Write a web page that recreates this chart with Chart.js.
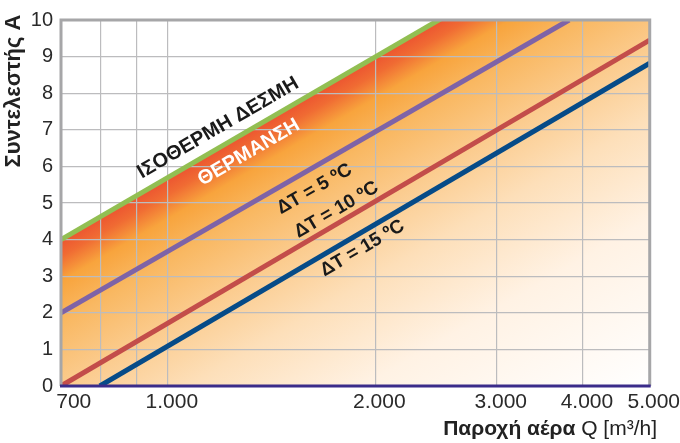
<!DOCTYPE html>
<html lang="el">
<head>
  <meta charset="UTF-8" />
  <title>Συντελεστής Α</title>
  <script src="https://cdn.jsdelivr.net/npm/chart.js"></script>
  <style>
    body, html { margin: 0; padding: 0; background: #fff; }
    #wrap { width: 680px; height: 443px; }
  </style>
</head>
<body>
  <div id="wrap"><canvas id="chart" width="680" height="443"></canvas></div>

  <script>
    // air flow Q [m3/h] (log axis) -> coefficient A, lines are straight on the log scale
    const isoQ  = [700, 5000];   const isoA  = [4, 13.35];   // isothermal jet (runs past the top, clipped)
    const dt5Q  = [700, 3820];   const dt5A  = [2, 10];
    const dt10Q = [700, 5000];   const dt10A = [0, 9.45];
    const dt15Q = [797, 5000];   const dt15A = [0, 8.82];

    const xTickValues = [700, 800, 900, 1000, 2000, 3000, 4000, 5000];
    const xTickLabels = ['   700', '', '', '1.000', '2.000', '3.000', '4.000', '5.000'];

    const FONT = "'Liberation Sans', Arial, sans-serif";
    const toPts = (qs, as) => qs.map((q, i) => ({ x: q, y: as[i] }));

    // gradient runs across the lines: red-orange at the isothermal line, white at the bottom right
    function heatGradient(chart) {
      const { ctx, chartArea, scales } = chart;
      if (!chartArea) return 'rgba(0,0,0,0)';
      const x0 = scales.x.getPixelForValue(isoQ[0]), y0 = scales.y.getPixelForValue(isoA[0]);
      const x1 = scales.x.getPixelForValue(isoQ[1]), y1 = scales.y.getPixelForValue(isoA[1]);
      const len = Math.hypot(x1 - x0, y1 - y0);
      const nx = -(y1 - y0) / len, ny = (x1 - x0) / len;
      const t = (chartArea.right - x0) * nx + (chartArea.bottom - y0) * ny;
      const g = ctx.createLinearGradient(x0, y0, x0 + nx * t, y0 + ny * t);
      g.addColorStop(0, '#ec5430');
      g.addColorStop(0.035, '#f06b33');
      g.addColorStop(0.085, '#f8a43d');
      g.addColorStop(0.17, '#f9b862');
      g.addColorStop(0.3, '#fbcb8d');
      g.addColorStop(0.45, '#fddfb9');
      g.addColorStop(0.66, '#fff2e4');
      g.addColorStop(1, '#ffffff');
      return g;
    }

    const lineLabels = [
      { text: 'ΙΣΟΘΕΡΜΗ ΔΕΣΜΗ', q: 1183, a: 7.05, along: [isoQ, isoA], color: '#1a1a1a', size: 20 },
      { text: 'ΘΕΡΜΑΝΣΗ',       q: 1311, a: 6.38, along: [isoQ, isoA], color: '#ffffff', size: 20 },
      { text: 'ΔT = 5 ºC',      q: 1632, a: 5.38, along: [dt5Q, dt5A], color: '#1a1a1a', size: 19 },
      { text: 'ΔT = 10 ºC',     q: 1756, a: 4.81, along: [dt10Q, dt10A], color: '#1a1a1a', size: 19 },
      { text: 'ΔT = 15 ºC',     q: 1915, a: 3.76, along: [dt15Q, dt15A], color: '#1a1a1a', size: 19 }
    ];

    const decorations = {
      id: 'decorations',
      afterDatasetsDraw(chart) {
        const { ctx, chartArea: ca, scales } = chart;
        ctx.save();
        // frame: grey on three sides, dark blue base line
        ctx.lineWidth = 3;
        ctx.strokeStyle = '#a6a6a8';
        ctx.beginPath();
        ctx.moveTo(ca.left, ca.bottom);
        ctx.lineTo(ca.left, ca.top);
        ctx.lineTo(ca.right, ca.top);
        ctx.lineTo(ca.right, ca.bottom);
        ctx.stroke();
        ctx.strokeStyle = '#3b2c8a';
        ctx.beginPath();
        ctx.moveTo(ca.left - 1, ca.bottom);
        ctx.lineTo(ca.right + 1, ca.bottom);
        ctx.stroke();

        // labels along the lines
        lineLabels.forEach(l => {
          const [qs, as] = l.along;
          const ax = scales.x.getPixelForValue(qs[0]), ay = scales.y.getPixelForValue(as[0]);
          const bx = scales.x.getPixelForValue(qs[1]), by = scales.y.getPixelForValue(as[1]);
          const ang = Math.atan2(by - ay, bx - ax);
          ctx.save();
          ctx.translate(scales.x.getPixelForValue(l.q), scales.y.getPixelForValue(l.a));
          ctx.rotate(ang);
          ctx.font = `bold ${l.size}px ${FONT}`;
          ctx.fillStyle = l.color;
          ctx.textAlign = 'center';
          ctx.textBaseline = 'middle';
          ctx.fillText(l.text, 0, 0);
          ctx.restore();
        });

        // axis titles
        ctx.fillStyle = '#222';
        ctx.textBaseline = 'middle';
        ctx.save();
        ctx.translate(14, 91);
        ctx.rotate(-Math.PI / 2);
        ctx.textAlign = 'center';
        ctx.font = `bold 22px ${FONT}`;
        ctx.fillText('Συντελεστής Α', 0, 0);
        ctx.restore();

        const boldPart = 'Παροχή αέρα', plainPart = ' Q [m³/h]';
        ctx.font = `21px ${FONT}`;
        const wPlain = ctx.measureText(plainPart).width;
        ctx.textAlign = 'right';
        ctx.fillText(plainPart, 657, 429);
        ctx.font = `bold 21px ${FONT}`;
        ctx.fillText(boldPart, 657 - wPlain, 429);
        ctx.restore();
      }
    };

    const lineStyle = { borderWidth: 5, pointRadius: 0, fill: false, tension: 0 };

    new Chart(document.getElementById('chart'), {
      type: 'line',
      data: {
        datasets: [
          { ...lineStyle, label: 'ΔT = 15', data: toPts(dt15Q, dt15A), borderColor: '#064b88' },
          { ...lineStyle, label: 'ΔT = 10', data: toPts(dt10Q, dt10A), borderColor: '#c34d4a' },
          { ...lineStyle, label: 'ΔT = 5', data: toPts(dt5Q, dt5A), borderColor: '#7e63a7' },
          { ...lineStyle, label: 'Ισόθερμη', data: toPts(isoQ, isoA), borderColor: '#92bf52',
            fill: 'origin', backgroundColor: ctx => heatGradient(ctx.chart) }
        ]
      },
      options: {
        responsive: false,
        animation: false,
        layout: { padding: { left: 0, right: 27, top: 17, bottom: 0 } },
        plugins: {
          legend: { display: false },
          tooltip: { enabled: false },
          filler: { drawTime: 'beforeDraw' }
        },
        scales: {
          x: {
            type: 'logarithmic',
            min: 700,
            max: 5000,
            afterBuildTicks: s => { s.ticks = xTickValues.map(v => ({ value: v })); },
            afterFit: s => { s.height = 57; },
            ticks: {
              autoSkip: false,
              maxRotation: 0,
              padding: 4,
              labelOffset: 4,
              color: '#2a2a2a',
              font: { family: FONT, size: 21 },
              callback: (v) => xTickLabels[xTickValues.indexOf(v)] ?? ''
            },
            grid: { color: '#bcbcbe', lineWidth: 1.2, drawTicks: false },
            border: { display: false }
          },
          y: {
            min: 0,
            max: 10,
            afterFit: s => { s.width = 61; },
            ticks: {
              stepSize: 1,
              padding: 8,
              color: '#2a2a2a',
              font: { family: FONT, size: 20 }
            },
            grid: { color: '#bcbcbe', lineWidth: 1.2, drawTicks: false },
            border: { display: false }
          }
        }
      },
      plugins: [decorations]
    });
  </script>
</body>
</html>
